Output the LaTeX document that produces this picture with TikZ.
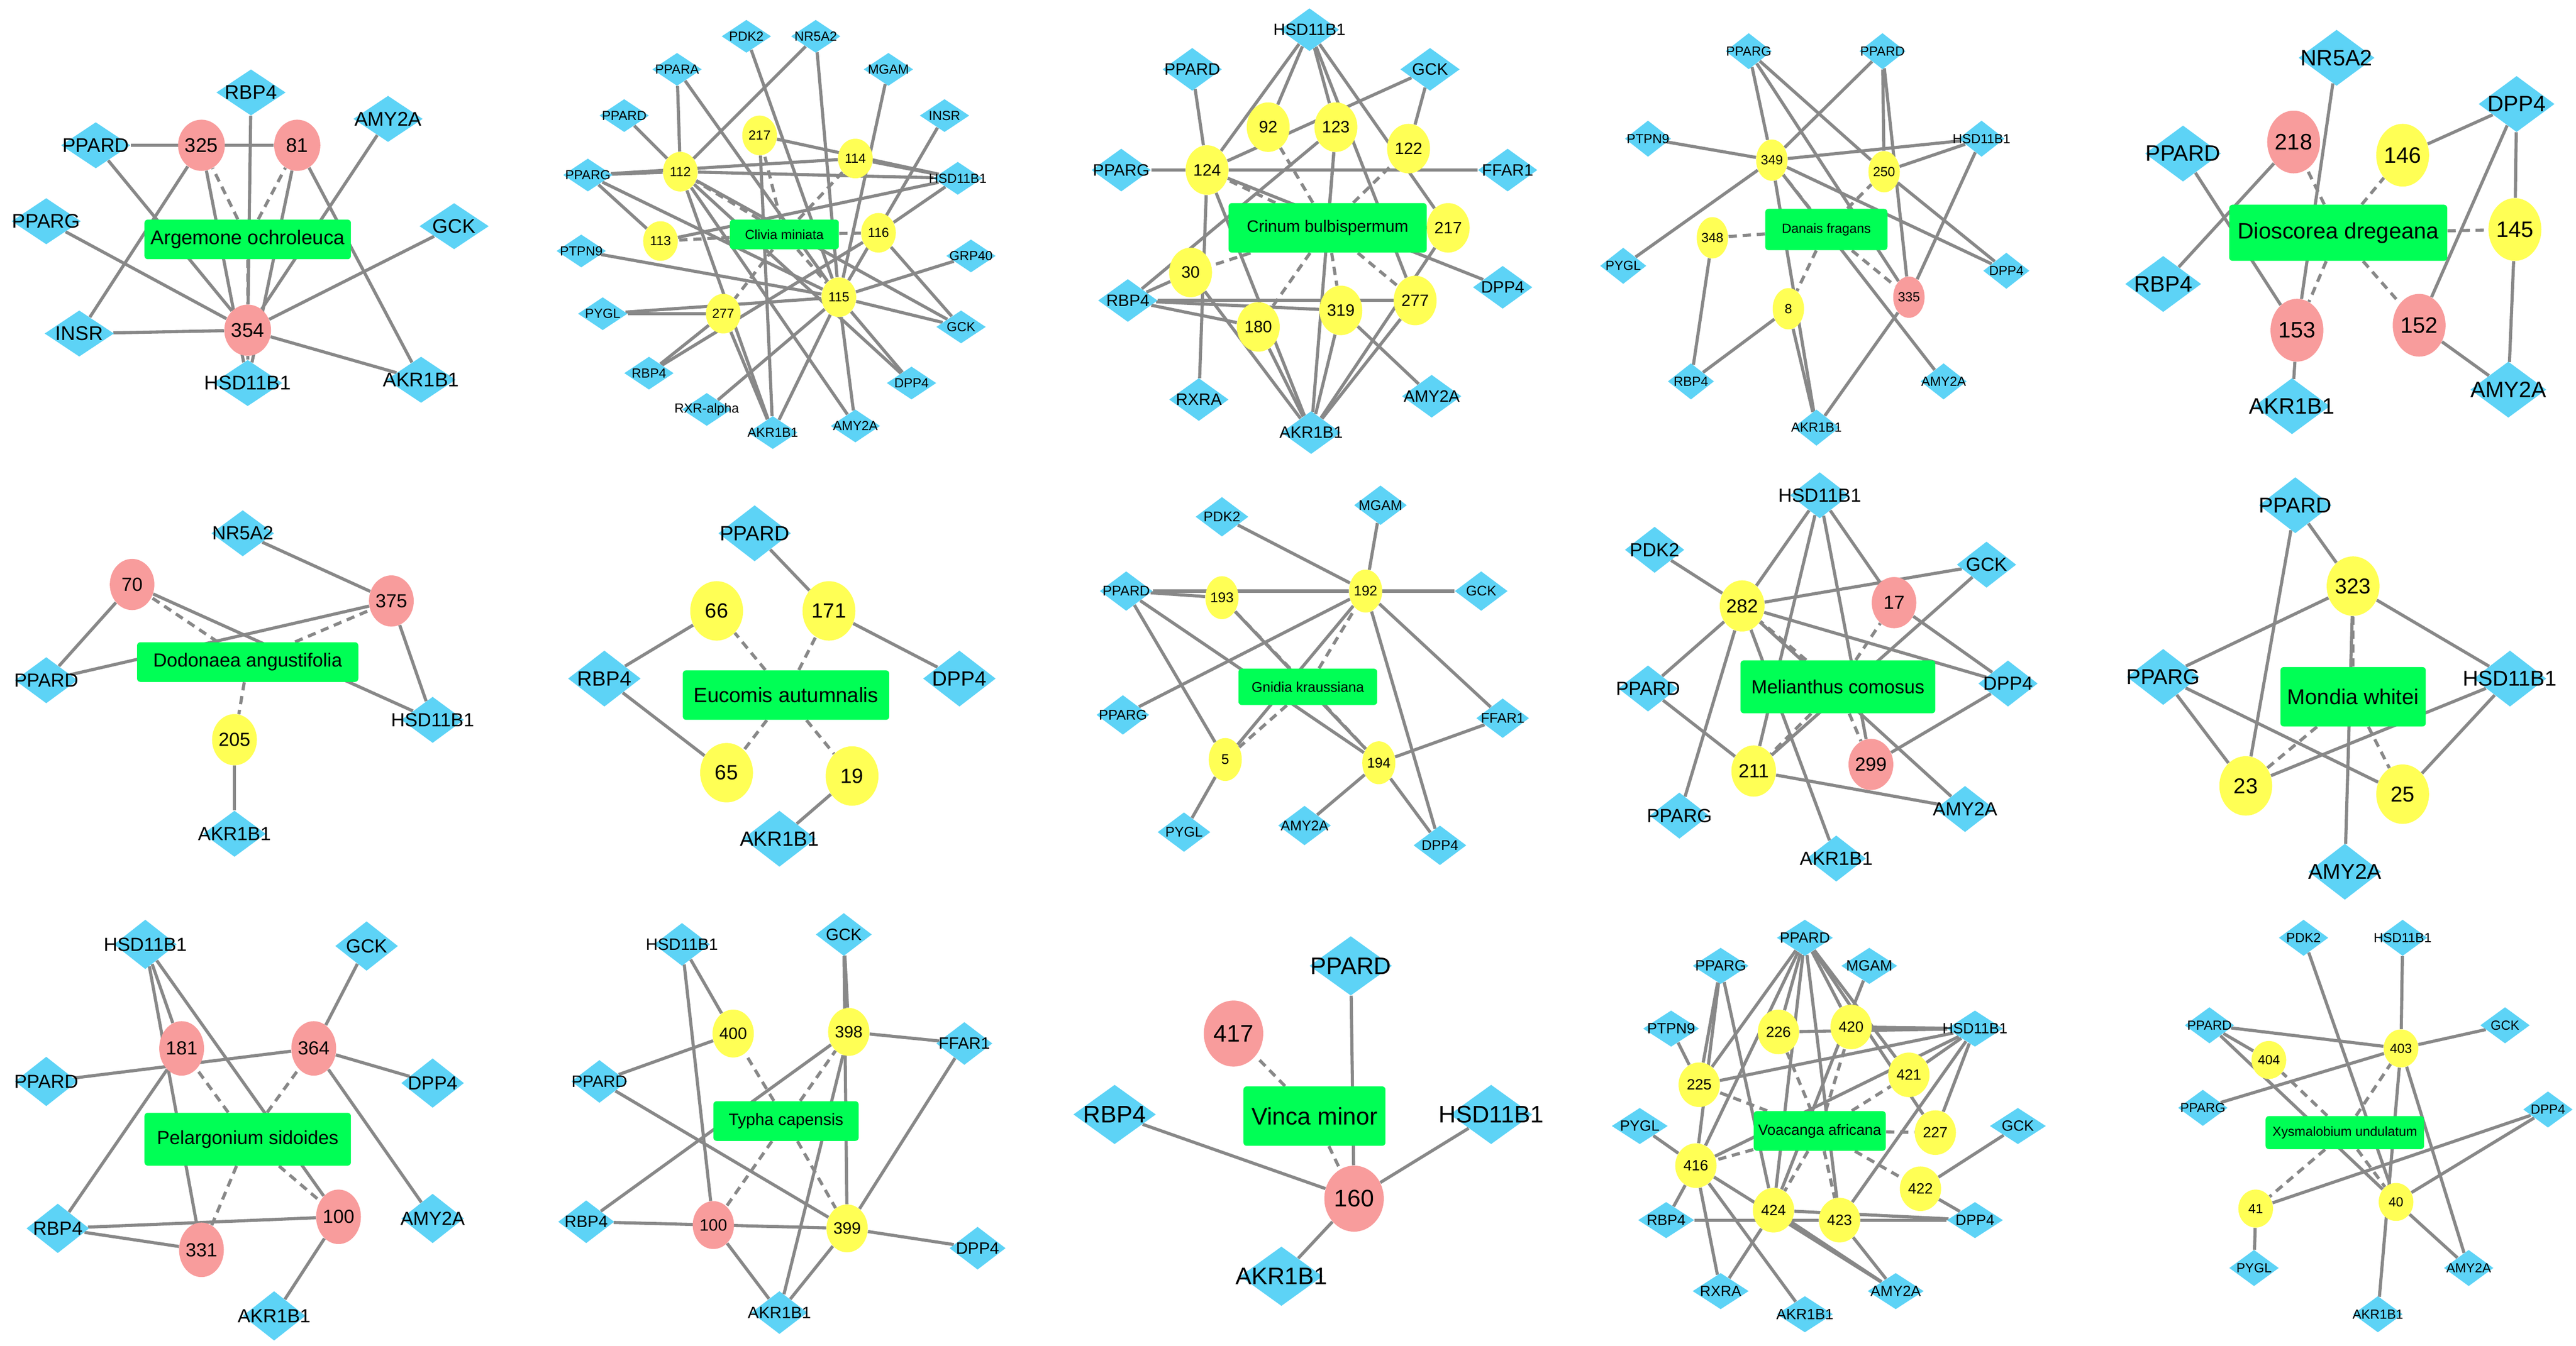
\documentclass[tikz,border=0pt]{standalone}
\usepackage{fontspec}
\setmainfont{Liberation Sans}
\usetikzlibrary{shapes.geometric,backgrounds}
\definecolor{tcol}{HTML}{5DD3F6}
\definecolor{ycol}{HTML}{FFFF55}
\definecolor{rcol}{HTML}{F89C9C}
\definecolor{pcol}{HTML}{00FF55}
\definecolor{edgec}{HTML}{888888}
\tikzset{ed/.style={draw=edgec,line width=1.9pt},dsh/.style={draw=edgec,line width=1.9pt,dash pattern=on 5pt off 3.5pt}}
\newcommand\Pset[7]{\tikzset{tg/.style={diamond,fill=tcol,minimum width=#1pt,minimum height=#2pt,inner sep=0pt},
 cp/.style={ellipse,minimum width=#3pt,minimum height=#4pt,inner sep=0pt},
 pl/.style={rectangle,rounded corners=2pt,fill=pcol,minimum width=#5pt,minimum height=#6pt,inner sep=1pt},
 every node/.style={font=\fontsize{#7}{#7}\selectfont}}}
\newcommand\Tg[3]{\node[tg,label={center:#2}] (#1-#2) at (#3) {};}
\newcommand\Cy[3]{\node[cp,fill=ycol] (#1-#2) at (#3) {#2};}
\newcommand\Cr[3]{\node[cp,fill=rcol] (#1-#2) at (#3) {#2};}
\newcommand\Pl[3]{\node[pl] (#1-P) at (#2) {#3};}
\newcommand\Ed[2]{\begin{scope}[on background layer]\foreach \u/\v in {#2}{\draw[ed] (#1-\u) -- (#1-\v);}\end{scope}}
\newcommand\Ds[2]{\begin{scope}[on background layer]\foreach \v in {#2}{\draw[dsh] (#1-P) -- (#1-\v);}\end{scope}}
\begin{document}
\begin{tikzpicture}[x=1pt,y=-1pt]
\useasboundingbox (0,0) rectangle (1560,815);
% 1 Argemone
\begin{scope}\Pset{42}{28}{28}{31}{125}{24}{12}
\Tg{a}{RBP4}{152,56}\Tg{a}{PPARD}{58,88}\Tg{a}{AMY2A}{235,72}\Tg{a}{PPARG}{28,134}\Tg{a}{GCK}{275,137}
\Tg{a}{INSR}{48,202}\Tg{a}{AKR1B1}{255,230}\Tg{a}{HSD11B1}{150,232}
\Cr{a}{325}{122,88}\Cr{a}{81}{180,88}\Cr{a}{354}{150,200}
\Pl{a}{150,145}{Argemone ochroleuca}
\Ed{a}{PPARD/325,PPARD/81,PPARD/354,RBP4/354,AMY2A/354,PPARG/354,GCK/354,INSR/354,INSR/325,AKR1B1/354,AKR1B1/81,HSD11B1/354,HSD11B1/325,HSD11B1/81}
\Ds{a}{325,81,354}
\end{scope}
% 2 Clivia
\begin{scope}\Pset{30}{20}{21}{24}{66}{18}{8}
\Tg{b}{PDK2}{452,22}\Tg{b}{NR5A2}{494,22}\Tg{b}{PPARA}{410,42}\Tg{b}{MGAM}{538,42}\Tg{b}{PPARD}{378,70}
\Tg{b}{INSR}{572,70}\Tg{b}{PPARG}{356,106}\Tg{b}{HSD11B1}{580,108}\Tg{b}{PTPN9}{352,152}\Tg{b}{GRP40}{588,155}
\Tg{b}{PYGL}{365,190}\Tg{b}{GCK}{582,198}\Tg{b}{RBP4}{393,226}\Tg{b}{DPP4}{552,232}\Tg{b}{RXR-alpha}{428,248}
\Tg{b}{AKR1B1}{468,262}\Tg{b}{AMY2A}{518,258}
\Cy{b}{217}{460,82}\Cy{b}{114}{518,96}\Cy{b}{112}{412,104}\Cy{b}{116}{532,141}\Cy{b}{113}{400,146}
\Cy{b}{277}{438,190}\Cy{b}{115}{508,180}
\Pl{b}{475,142}{Clivia miniata}
\Ed{b}{PDK2/115,NR5A2/112,NR5A2/115,PPARA/112,PPARA/115,PPARD/112,PPARG/112,PPARG/114,PPARG/115,PPARG/113,MGAM/115,INSR/115,HSD11B1/114,HSD11B1/112,HSD11B1/116,HSD11B1/217,HSD11B1/113,GRP40/115,GCK/115,GCK/116,GCK/112,PYGL/115,PTPN9/115,RBP4/277,RBP4/116,DPP4/115,DPP4/112,RXR-alpha/115,AKR1B1/277,AKR1B1/217,AKR1B1/112,AKR1B1/115,AMY2A/112,AMY2A/115,PYGL/277}
\Ds{b}{217,114,112,113,116,277,115}
\end{scope}
% 3 Crinum
\begin{scope}\Pset{36}{26}{26}{30}{120}{30}{10}
\Tg{c}{HSD11B1}{793,18}\Tg{c}{PPARD}{722,42}\Tg{c}{GCK}{866,42}\Tg{c}{PPARG}{679,103}\Tg{c}{FFAR1}{913,103}
\Tg{c}{RBP4}{683,182}\Tg{c}{DPP4}{910,174}\Tg{c}{RXRA}{726,242}\Tg{c}{AMY2A}{867,240}\Tg{c}{AKR1B1}{794,262}
\Cy{c}{92}{768,77}\Cy{c}{123}{809,77}\Cy{c}{122}{853,90}\Cy{c}{124}{731,103}\Cy{c}{217}{877,138}
\Cy{c}{30}{721,165}\Cy{c}{277}{857,182}\Cy{c}{180}{762,198}\Cy{c}{319}{812,188}
\Pl{c}{804,138}{Crinum bulbispermum}
\Ed{c}{HSD11B1/124,HSD11B1/92,HSD11B1/123,HSD11B1/277,HSD11B1/217,PPARD/124,GCK/124,GCK/122,PPARG/124,FFAR1/124,DPP4/124,RXRA/124,AKR1B1/124,RBP4/123,RBP4/30,RBP4/277,RBP4/319,AKR1B1/30,AKR1B1/180,AKR1B1/123,AKR1B1/319,AKR1B1/277,AKR1B1/217,AMY2A/319,RBP4/180}
\Ds{c}{92,123,122,124,217,30,277,180,319}
\end{scope}
% 4 Danais
\begin{scope}\Pset{28}{22}{19}{25}{74}{25}{8}
\Tg{d}{PPARG}{1059,31}\Tg{d}{PPARD}{1140,31}\Tg{d}{PTPN9}{998,84}\Tg{d}{HSD11B1}{1200,84}\Tg{d}{PYGL}{983,161}
\Tg{d}{DPP4}{1215,164}\Tg{d}{RBP4}{1024,231}\Tg{d}{AMY2A}{1177,231}\Tg{d}{AKR1B1}{1100,259}
\Cy{d}{349}{1073,97}\Cy{d}{250}{1141,104}\Cy{d}{348}{1037,144}\Cy{d}{8}{1083,187}\Cr{d}{335}{1156,180}
\Pl{d}{1106,139}{Danais fragans}
\Ed{d}{PPARG/349,PPARG/250,PPARG/335,PPARD/349,PPARD/250,PPARD/335,PTPN9/349,HSD11B1/349,HSD11B1/250,HSD11B1/335,PYGL/349,DPP4/349,DPP4/250,AMY2A/349,RBP4/348,RBP4/8,AKR1B1/8,AKR1B1/335,AKR1B1/349}
\Ds{d}{349,250,348,8,335}
\end{scope}
% 5 Dioscorea
\begin{scope}\Pset{46}{34}{32}{38}{132}{34}{13.5}
\Tg{e}{NR5A2}{1415,35}\Tg{e}{DPP4}{1524,63}\Tg{e}{PPARD}{1322,93}\Tg{e}{RBP4}{1310,172}\Tg{e}{AKR1B1}{1388,246}\Tg{e}{AMY2A}{1519,236}
\Cr{e}{218}{1389,86}\Cy{e}{146}{1455,94}\Cy{e}{145}{1523,139}\Cr{e}{153}{1391,200}\Cr{e}{152}{1465,197}
\Pl{e}{1416,141}{Dioscorea dregeana}
\Ed{e}{NR5A2/153,PPARD/153,RBP4/218,DPP4/146,DPP4/152,DPP4/145,AMY2A/145,AMY2A/152,AKR1B1/153}
\Ds{e}{218,146,145,153,152}
\end{scope}
% 6 Dodonaea
\begin{scope}\Pset{38}{28}{27}{31}{134}{24}{11.5}
\Tg{f}{NR5A2}{147,323}\Tg{f}{PPARD}{28,412}\Tg{f}{HSD11B1}{262,436}\Tg{f}{AKR1B1}{142,505}
\Cr{f}{70}{80,354}\Cr{f}{375}{237,364}\Cy{f}{205}{142,448}
\Pl{f}{150,401}{Dodonaea angustifolia}
\Ed{f}{NR5A2/375,PPARD/70,PPARD/375,HSD11B1/70,HSD11B1/375,AKR1B1/205}
\Ds{f}{70,375,205}
\end{scope}
% 7 Eucomis
\begin{scope}\Pset{44}{34}{32}{36}{125}{30}{12.5}
\Tg{g}{PPARD}{457,323}\Tg{g}{RBP4}{366,411}\Tg{g}{DPP4}{581,411}\Tg{g}{AKR1B1}{472,508}
\Cy{g}{66}{434,370}\Cy{g}{171}{502,370}\Cy{g}{65}{440,468}\Cy{g}{19}{516,470}
\Pl{g}{476,421}{Eucomis autumnalis}
\Ed{g}{PPARD/171,RBP4/66,RBP4/65,DPP4/171,AKR1B1/19}
\Ds{g}{66,171,65,19}
\end{scope}
% 8 Gnidia
\begin{scope}\Pset{32}{24}{20}{26}{84}{22}{8.5}
\Tg{h}{PDK2}{740,313}\Tg{h}{MGAM}{836,306}\Tg{h}{PPARD}{682,358}\Tg{h}{GCK}{897,358}\Tg{h}{PPARG}{680,433}
\Tg{h}{FFAR1}{910,435}\Tg{h}{PYGL}{717,504}\Tg{h}{AMY2A}{790,500}\Tg{h}{DPP4}{872,512}
\Cy{h}{193}{740,362}\Cy{h}{192}{827,358}\Cy{h}{5}{742,460}\Cy{h}{194}{835,462}
\Pl{h}{792,416}{Gnidia kraussiana}
\Ed{h}{PDK2/192,MGAM/192,GCK/192,PPARD/193,PPARD/192,PPARD/194,PPARD/5,PPARG/192,PYGL/5,5/192,FFAR1/192,DPP4/192,FFAR1/194,DPP4/194,AMY2A/194,193/194}
\Ds{h}{193,192,5,194}
\end{scope}
% 9 Melianthus
\begin{scope}\Pset{36}{28}{27}{31}{118}{32}{11.5}
\Tg{i}{HSD11B1}{1102,300}\Tg{i}{PDK2}{1002,333}\Tg{i}{GCK}{1203,342}\Tg{i}{PPARD}{998,417}\Tg{i}{DPP4}{1216,414}
\Tg{i}{PPARG}{1017,494}\Tg{i}{AMY2A}{1190,490}\Tg{i}{AKR1B1}{1112,520}
\Cy{i}{282}{1055,367}\Cr{i}{17}{1147,365}\Cy{i}{211}{1062,467}\Cr{i}{299}{1133,463}
\Pl{i}{1113,416}{Melianthus comosus}
\Ed{i}{HSD11B1/282,HSD11B1/211,HSD11B1/299,HSD11B1/17,PDK2/282,GCK/282,GCK/211,DPP4/282,DPP4/17,PPARD/282,PPARD/211,PPARG/282,AKR1B1/282,AMY2A/211,DPP4/299,AMY2A/282}
\Ds{i}{282,17,211,299}
\end{scope}
% 10 Mondia
\begin{scope}\Pset{44}{34}{32}{36}{88}{36}{13}
\Tg{j}{PPARD}{1390,306}\Tg{j}{PPARG}{1310,410}\Tg{j}{HSD11B1}{1520,411}\Tg{j}{AMY2A}{1420,528}
\Cy{j}{323}{1425,355}\Cy{j}{23}{1360,476}\Cy{j}{25}{1455,481}
\Pl{j}{1425,422}{Mondia whitei}
\Ed{j}{PPARD/323,PPARD/23,PPARG/323,PPARG/23,PPARG/25,HSD11B1/323,HSD11B1/23,HSD11B1/25,AMY2A/323}
\Ds{j}{323,23,25}
\end{scope}
% 11 Pelargonium
\begin{scope}\Pset{38}{30}{27}{33}{125}{32}{11.5}
\Tg{k}{HSD11B1}{88,572}\Tg{k}{GCK}{222,573}\Tg{k}{PPARD}{28,655}\Tg{k}{DPP4}{262,656}\Tg{k}{RBP4}{35,744}
\Tg{k}{AMY2A}{262,738}\Tg{k}{AKR1B1}{166,797}
\Cr{k}{181}{110,635}\Cr{k}{364}{190,635}\Cr{k}{100}{205,737}\Cr{k}{331}{122,757}
\Pl{k}{150,690}{Pelargonium sidoides}
\Ed{k}{HSD11B1/181,HSD11B1/331,HSD11B1/100,GCK/364,PPARD/364,RBP4/181,DPP4/364,AMY2A/364,RBP4/100,RBP4/331,AKR1B1/100}
\Ds{k}{181,364,100,331}
\end{scope}
% 12 Typha
\begin{scope}\Pset{34}{26}{25}{29}{88}{24}{10}
\Tg{l}{HSD11B1}{413,572}\Tg{l}{GCK}{511,566}\Tg{l}{PPARD}{363,655}\Tg{l}{FFAR1}{584,632}\Tg{l}{RBP4}{355,740}
\Tg{l}{DPP4}{592,756}\Tg{l}{AKR1B1}{472,795}
\Cy{l}{400}{444,626}\Cy{l}{398}{514,625}\Cr{l}{100}{432,742}\Cy{l}{399}{513,744}
\Pl{l}{476,679}{Typha capensis}
\Ed{l}{HSD11B1/400,HSD11B1/100,GCK/398,PPARD/400,PPARD/399,FFAR1/398,RBP4/398,AKR1B1/398,GCK/399,FFAR1/399,RBP4/399,DPP4/399,AKR1B1/100,AKR1B1/399}
\Ds{l}{400,398,100,399}
\end{scope}
% 13 Vinca
\begin{scope}\Pset{50}{36}{36}{40}{86}{36}{14.5}
\Tg{m}{PPARD}{818,585}\Tg{m}{RBP4}{675,675}\Tg{m}{HSD11B1}{903,675}\Tg{m}{AKR1B1}{776,773}
\Cr{m}{417}{747,626}\Cr{m}{160}{820,726}
\Pl{m}{796,676}{Vinca minor}
\Ed{m}{PPARD/160,RBP4/160,HSD11B1/160,AKR1B1/160}
\Ds{m}{417,160}
\end{scope}
% 14 Voacanga
\begin{scope}\Pset{34}{22}{25}{27}{80}{24}{9}
\Tg{n}{PPARD}{1093,568}\Tg{n}{PPARG}{1042,585}\Tg{n}{MGAM}{1132,585}\Tg{n}{PTPN9}{1012,623}\Tg{n}{HSD11B1}{1196,623}
\Tg{n}{PYGL}{993,682}\Tg{n}{GCK}{1222,682}\Tg{n}{RBP4}{1009,739}\Tg{n}{DPP4}{1196,739}\Tg{n}{RXRA}{1042,782}
\Tg{n}{AKR1B1}{1093,796}\Tg{n}{AMY2A}{1148,782}
\Cy{n}{226}{1077,625}\Cy{n}{420}{1121,622}\Cy{n}{225}{1029,657}\Cy{n}{421}{1156,651}\Cy{n}{227}{1172,686}
\Cy{n}{416}{1027,706}\Cy{n}{422}{1163,720}\Cy{n}{424}{1074,733}\Cy{n}{423}{1114,739}
\Pl{n}{1102,685}{Voacanga africana}
\Ed{n}{PPARD/225,PPARD/226,PPARD/416,PPARD/424,PPARD/420,PPARD/423,PPARD/421,PPARD/227,PPARG/225,PPARG/424,PPARG/416,MGAM/424,PTPN9/225,HSD11B1/226,HSD11B1/420,HSD11B1/225,HSD11B1/421,HSD11B1/416,HSD11B1/423,HSD11B1/227,PYGL/416,RBP4/416,RBP4/423,GCK/422,AKR1B1/416,RXRA/416,RXRA/424,DPP4/424,DPP4/423,DPP4/422,AMY2A/423,AMY2A/424,AMY2A/416}
\Ds{n}{225,226,420,421,227,416,424,423,422}
\end{scope}
% 15 Xysmalobium
\begin{scope}\Pset{30}{22}{21}{23}{96}{20}{8}
\Tg{o}{PDK2}{1395,568}\Tg{o}{HSD11B1}{1455,568}\Tg{o}{PPARD}{1338,621}\Tg{o}{GCK}{1517,621}\Tg{o}{PPARG}{1334,671}
\Tg{o}{DPP4}{1543,672}\Tg{o}{PYGL}{1365,768}\Tg{o}{AMY2A}{1495,768}\Tg{o}{AKR1B1}{1440,796}
\Cy{o}{404}{1374,642}\Cy{o}{403}{1454,635}\Cy{o}{41}{1366,732}\Cy{o}{40}{1451,728}
\Pl{o}{1420,686}{Xysmalobium undulatum}
\Ed{o}{PDK2/40,HSD11B1/403,PPARD/404,PPARD/403,PPARD/40,GCK/403,PPARG/403,AKR1B1/403,AMY2A/403,PYGL/41,DPP4/41,DPP4/40,AMY2A/40}
\Ds{o}{404,403,41,40}
\end{scope}
\end{tikzpicture}
\end{document}
